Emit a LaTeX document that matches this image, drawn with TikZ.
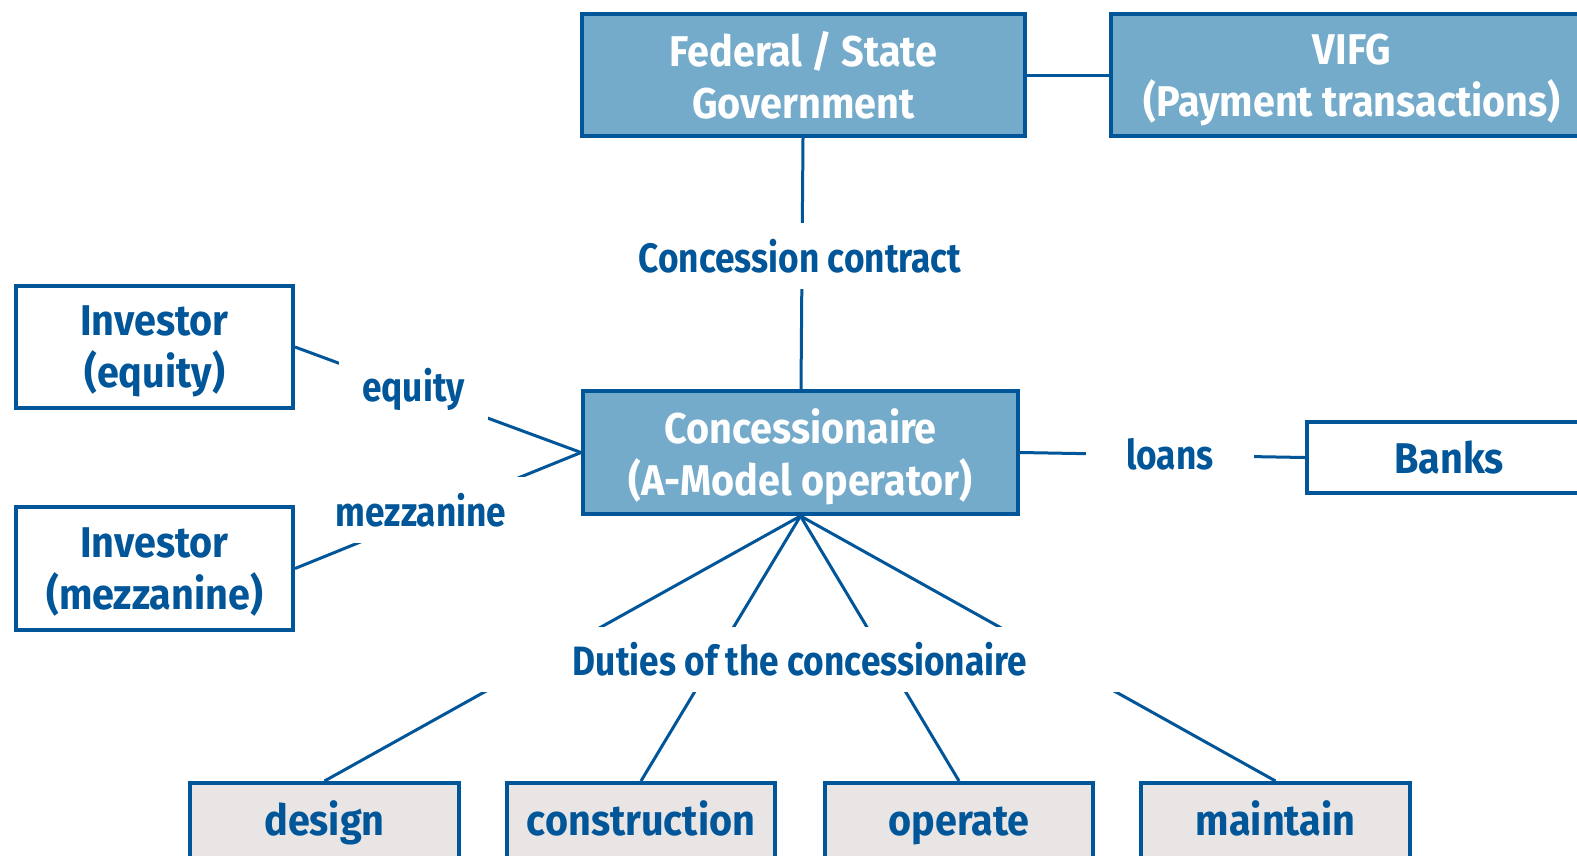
\documentclass[tikz,border=0pt]{standalone}
\usepackage{fontspec}
\setmainfont{Fira Sans}[FakeStretch=0.86]
\newfontfamily\boxfont{Fira Sans}[FakeStretch=0.92]
\definecolor{navy}{RGB}{0,86,152}
\definecolor{skyfill}{RGB}{116,170,202}
\definecolor{greyfill}{RGB}{233,229,229}
\begin{document}
\begin{tikzpicture}[x=1pt,y=-1pt,
  txt/.style={font=\fontsize{41}{50}\selectfont\bfseries, align=center, inner sep=0pt},
  boxtxt/.style={font=\boxfont\fontsize{43}{52}\selectfont\bfseries, align=center, inner sep=0pt},
  twoline/.style={text depth=0pt},
  bluebox/.style={boxtxt, draw=navy, line width=4pt, fill=skyfill, text=white},
  whitebox/.style={boxtxt, draw=navy, line width=4pt, fill=white, text=navy},
  dutybox/.style={boxtxt, draw=navy, line width=4pt, fill=greyfill, text=navy,
    text height=32pt, text depth=10pt, minimum height=82pt},
  link/.style={draw=navy, line width=3pt},
  tag/.style={txt, fill=white, text=navy, minimum height=66pt}]
\clip (0,0) rectangle (1577,855);
\fill[white] (0,0) rectangle (1577,855);

% main parties
\node[bluebox, twoline, minimum width=443pt, minimum height=122pt] (fed) at (803.5,75) {Federal / State\\Government};
\node[bluebox, twoline, minimum width=482pt, minimum height=122pt] (vifg) at (1352,75) {VIFG\\(Payment transactions)};
\node[bluebox, twoline, minimum width=435pt, minimum height=123pt] (conc) at (800.5,452.5) {Concessionaire\\(A-Model operator)};
\node[whitebox, twoline, minimum width=277pt, minimum height=122pt] (inveq) at (154.5,347) {Investor\\(equity)};
\node[whitebox, twoline, minimum width=277pt, minimum height=123pt] (invmz) at (154.5,568.5) {Investor\\(mezzanine)};
\node[whitebox, minimum width=284pt, minimum height=71pt] (banks) at (1449,457.5) {Banks};

% duties
\node[dutybox, minimum width=269pt] (design) at (324.5,824) {design};
\node[dutybox, minimum width=268pt] (constr) at (641,824) {construction};
\node[dutybox, minimum width=268pt] (operate) at (959,824) {operate};
\node[dutybox, minimum width=269pt] (maintain) at (1275.5,824) {maintain};

% connectors
\draw[link] (fed) -- (vifg);
\draw[link] (fed) -- (conc);
\draw[link] (inveq.east) -- (conc.west);
\draw[link] (invmz.east) -- (conc.west);
\draw[link] (conc.east) -- (banks.west);
\draw[link] (conc.south) -- (design.north);
\draw[link] (conc.south) -- (constr.north);
\draw[link] (conc.south) -- (operate.north);
\draw[link] (conc.south) -- (maintain.north);

% labels sitting on the connectors
\node[tag, minimum width=340pt] (lcontract) at (800,256) {Concession contract};
\node[tag, minimum width=149pt] (lequity) at (413.5,389) {equity};
\node[tag, minimum width=215pt] (lmezz) at (421,510) {mezzanine};
\node[tag, minimum width=168pt] (lloans) at (1170,454) {loans};
\node[tag, minimum width=660pt, minimum height=65pt] (lduties) at (800,659) {Duties of the concessionaire};
\end{tikzpicture}
\end{document}
